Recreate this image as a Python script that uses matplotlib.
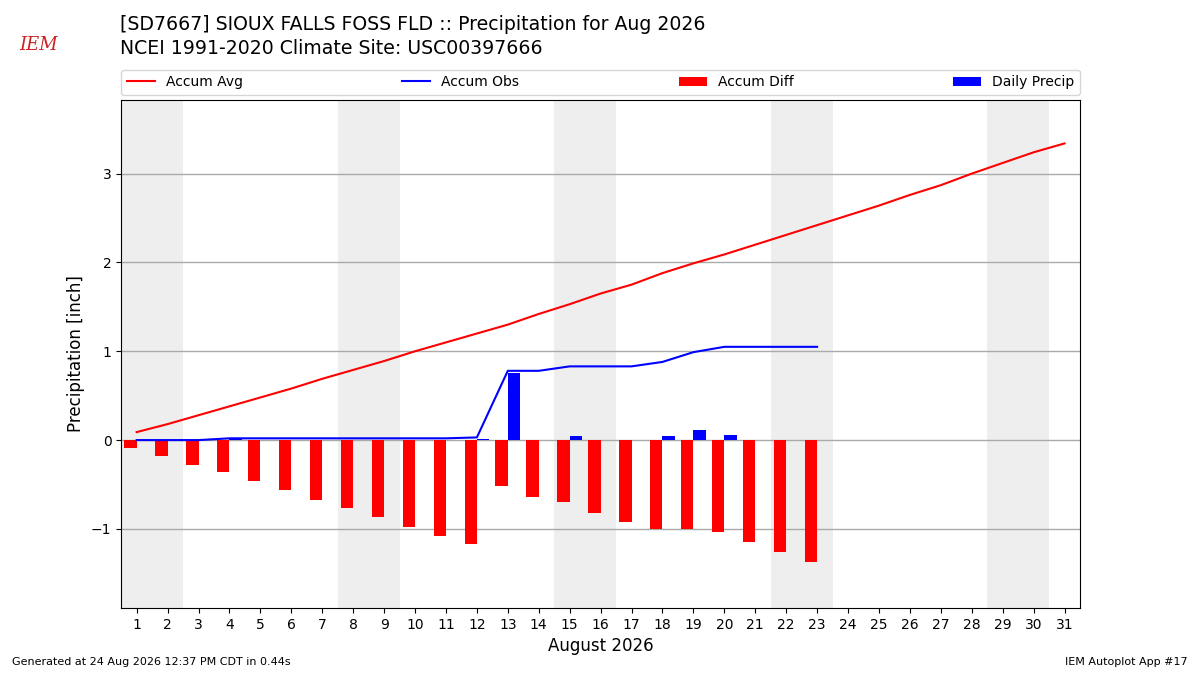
import numpy as np
import matplotlib
matplotlib.use("Agg")
import matplotlib.pyplot as plt

# Daily values (inches)
days = list(range(1, 32))
accum_avg = [0.09, 0.18, 0.28, 0.38, 0.48, 0.58, 0.69, 0.79, 0.89, 1.00,
             1.10, 1.20, 1.30, 1.42, 1.53, 1.65, 1.75, 1.88, 1.99, 2.09,
             2.20, 2.31, 2.42, 2.53, 2.64, 2.76, 2.87, 3.00, 3.12, 3.24, 3.34]
obs_days = list(range(1, 24))
accum_obs = [0.00, 0.00, 0.00, 0.02, 0.02, 0.02, 0.02, 0.02, 0.02, 0.02,
             0.02, 0.03, 0.78, 0.78, 0.83, 0.83, 0.83, 0.88, 0.99, 1.05,
             1.05, 1.05, 1.05]
accum_diff = [-0.09, -0.18, -0.28, -0.36, -0.46, -0.56, -0.67, -0.77, -0.87, -0.98,
              -1.08, -1.17, -0.52, -0.64, -0.70, -0.82, -0.92, -1.00, -1.00, -1.04,
              -1.15, -1.26, -1.37]
daily_precip = [0.00, 0.00, 0.00, 0.02, 0.00, 0.00, 0.00, 0.00, 0.00, 0.00,
                0.00, 0.01, 0.75, 0.00, 0.05, 0.00, 0.00, 0.05, 0.11, 0.06,
                0.00, 0.00, 0.00]
weekends = [(0.5, 2.5), (7.5, 9.5), (14.5, 16.5), (21.5, 23.5), (28.5, 30.5)]

fig = plt.figure(figsize=(12, 6.75), dpi=100)
ax = fig.add_axes([0.101, 0.0993, 0.799, 0.7527])

for x0, x1 in weekends:
    ax.axvspan(x0, x1, color="#EEEEEE", zorder=0, lw=0)

ax.plot(days, accum_avg, color="r", lw=1.5, label="Accum Avg", zorder=3)
ax.plot(obs_days, accum_obs, color="b", lw=1.5, label="Accum Obs", zorder=3)
ax.bar(obs_days, accum_diff, width=-0.4, align="edge", color="r",
       label="Accum Diff", zorder=2)
ax.bar(obs_days, daily_precip, width=0.4, align="edge", color="b",
       label="Daily Precip", zorder=2)

ax.set_xlim(0.5, 31.5)
ax.set_ylim(-1.89, 3.83)
ax.set_xticks(days)
ax.set_yticks([-1, 0, 1, 2, 3])
ax.yaxis.grid(True, color="#aaaaaa", lw=1)
ax.set_axisbelow(True)
ax.set_xlabel("August 2026", fontsize=12)
ax.set_ylabel("Precipitation [inch]", fontsize=12)

ax.legend(loc="lower left", bbox_to_anchor=(0, 1.01, 1, 0.05), ncol=4,
          mode="expand", borderaxespad=0, fontsize=10)

fig.text(0.1, 0.963, "[SD7667] SIOUX FALLS FOSS FLD :: Precipitation for Aug 2026",
         fontsize=13.6, va="center")
fig.text(0.1, 0.928, "NCEI 1991-2020 Climate Site: USC00397666",
         fontsize=13.6, va="center")
fig.text(0.01, 0.015, "Generated at 24 Aug 2026 12:37 PM CDT in 0.44s", fontsize=8)
fig.text(0.99, 0.015, "IEM Autoplot App #17", fontsize=8, ha="right")
fig.text(0.032, 0.933, "IEM", fontsize=13, color="#cc2222", style="italic",
         family="DejaVu Serif", ha="center", va="center")

fig.savefig("out.png")
